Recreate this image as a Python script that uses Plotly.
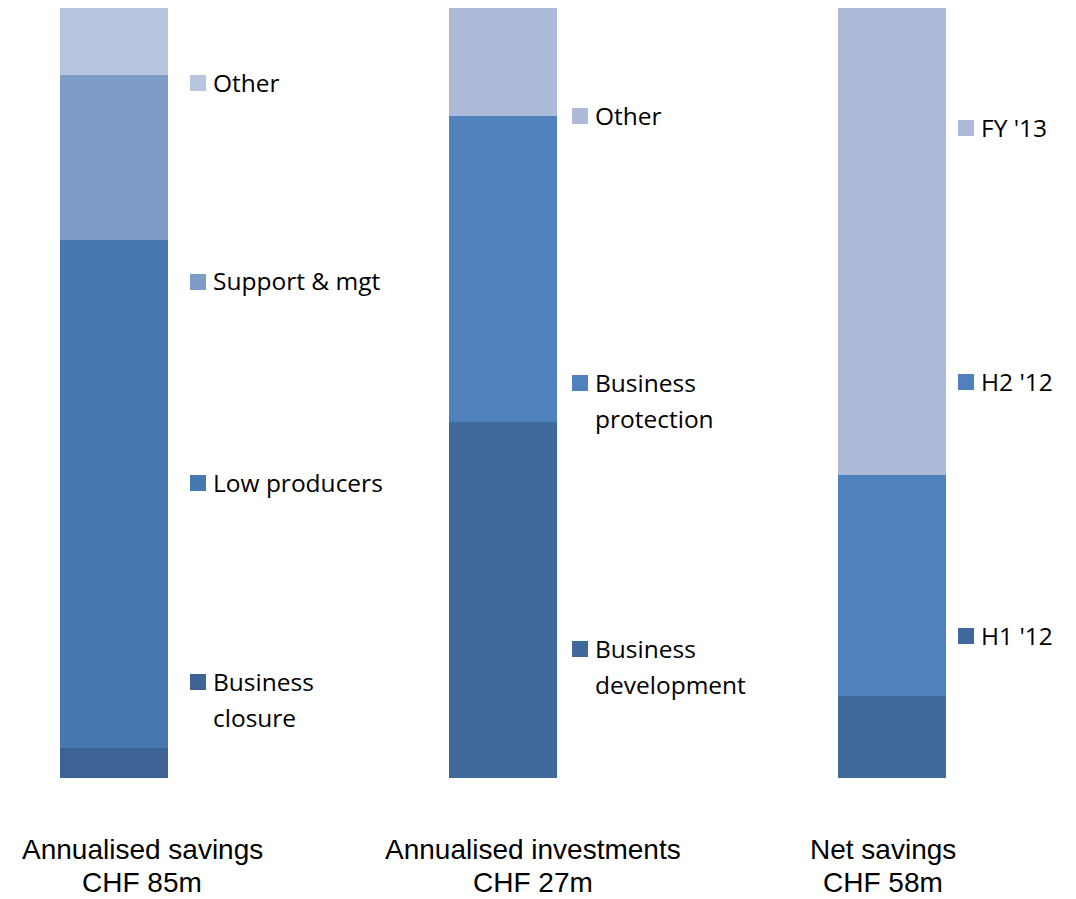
import plotly.graph_objects as go

# Three columns, each stacked to 100% of its own total
columns = ["Annualised savings", "Annualised investments", "Net savings"]
column_totals = ["CHF 85m", "CHF 27m", "CHF 58m"]

savings_labels = [["Business", "closure"], ["Low producers"], ["Support & mgt"], ["Other"]]
savings_values = [3.3, 56.1, 18.2, 7.4]
savings_colors = ["#3D6494", "#4878B0", "#7F9CC8", "#B7C5DF"]

invest_labels = [["Business", "development"], ["Business", "protection"], ["Other"]]
invest_values = [12.5, 10.7, 3.8]
invest_colors = ["#3F6A9B", "#4F81BD", "#ADBBD9"]

net_labels = [["H1 '12"], ["H2 '12"], ["FY '13"]]
net_values = [6.2, 16.6, 35.2]
net_colors = ["#406A9B", "#4F81BD", "#ADBBD9"]

W, H = 1076, 899
TOP, BOTTOM = 8, 121
plot_h = H - TOP - BOTTOM

fig = go.Figure()
groups = [
    (columns[0], savings_labels, savings_values, savings_colors),
    (columns[1], invest_labels, invest_values, invest_colors),
    (columns[2], net_labels, net_values, net_colors),
]
for col, labels, values, colors in groups:
    for lab, val, c in zip(labels, values, colors):
        fig.add_trace(go.Bar(
            x=[col], y=[val], name=" ".join(lab),
            marker=dict(color=c, line=dict(width=0)),
            width=0.2778, showlegend=False, hoverinfo="skip",
        ))

# per-column key: (square left px, text left px, vertical centres of first line)
key_layout = [
    (190, 211, [682, 483, 282, 83]),
    (572, 593, [649, 383, 116]),
    (958, 979, [636, 382, 128]),
]
LINE_GAP = 36


def py_to_paper(py):
    return (H - BOTTOM - py) / plot_h


key_font = dict(family="Open Sans, sans-serif", size=24.5, color="#000000")
cap_font = dict(family="Liberation Sans, Arial, sans-serif", size=28, color="#000000")

shapes = []
annotations = []
for (col, labels, values, colors), (sq_x, tx, ys) in zip(groups, key_layout):
    for lines, c, yc in zip(labels, colors, ys):
        shapes.append(dict(
            type="rect", xref="paper", yref="paper",
            x0=sq_x / W, x1=(sq_x + 16) / W,
            y0=py_to_paper(yc + 8), y1=py_to_paper(yc - 8),
            fillcolor=c, line=dict(width=0),
        ))
        for i, line in enumerate(lines):
            annotations.append(dict(
                xref="paper", yref="paper", x=tx / W,
                y=py_to_paper(yc + i * LINE_GAP - 1), xanchor="left", yanchor="middle",
                text=line, showarrow=False, align="left", font=key_font,
            ))

# column captions below the bars
caption_x = [142, 533, 883]
for col, tot, cx in zip(columns, column_totals, caption_x):
    for txt, yc in ((col, 849), (tot, 882)):
        annotations.append(dict(
            xref="paper", yref="paper", x=cx / W, y=py_to_paper(yc),
            xanchor="center", yanchor="middle", showarrow=False,
            text=txt, font=cap_font,
        ))

fig.update_layout(
    width=W, height=H,
    barmode="stack", barnorm="percent",
    margin=dict(l=0, r=0, t=TOP, b=BOTTOM),
    paper_bgcolor="white", plot_bgcolor="white",
    xaxis=dict(range=[-0.2933, 2.4746], showticklabels=False, showgrid=False,
               zeroline=False, showline=False, ticks=""),
    yaxis=dict(range=[0, 100], showticklabels=False, showgrid=False,
               zeroline=False, showline=False, ticks=""),
    shapes=shapes, annotations=annotations,
)

fig.write_html("out.html")
